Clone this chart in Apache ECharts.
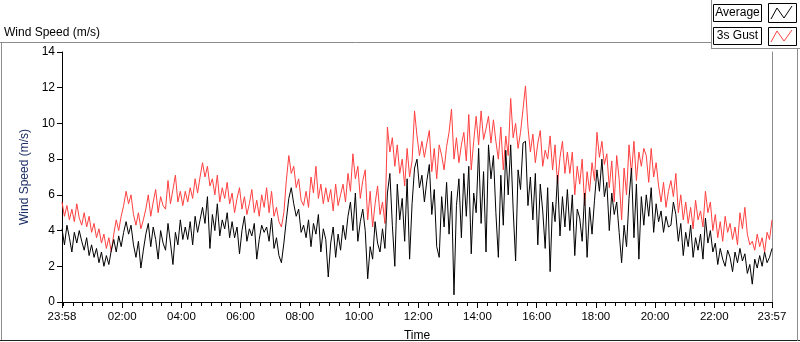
<!DOCTYPE html>
<html><head><meta charset="utf-8">
<script src="https://cdn.jsdelivr.net/npm/echarts@6/dist/echarts.min.js"></script>
<style>html,body{margin:0;padding:0;background:#fff;}#c{width:800px;height:342px;}</style>
</head><body><div id="c"></div>
<script>
// time axis in minutes from 00:00 (23:58 of previous day = -2)
var timeStart = -2;
var timeEnd = 1437;
var majorTickMinutes = [-2, 120, 240, 360, 480, 600, 720, 840, 960, 1080, 1200, 1320, 1437];
var yTicks = [0, 2, 4, 6, 8, 10, 12, 14];

// 3s Gust (red)
var gust = [
 5.6, 4.8, 5.4, 4.6, 5.2, 4.5, 5.5, 4.7,
 4.3, 5.0, 4.2, 4.8, 3.9,
 4.4, 3.6, 4.1, 3.3, 3.8,
 3.0, 3.6, 2.8,
 3.8, 4.6, 4.0, 4.8, 5.4,
 6.2, 5.5, 6.0, 4.9,
 4.3, 5.0, 4.1, 4.6,
 5.2, 6.0, 4.8, 5.6, 6.3, 5.0, 5.9, 5.4,
 5.2, 6.8, 5.5, 6.3, 7.1, 5.6, 6.2, 5.4,
 6.2, 5.6, 6.4, 5.8, 6.9, 6.1, 7.0,
 7.8, 7.0, 7.6, 6.5,
 6.9, 6.0, 7.1, 5.6, 6.4, 5.8, 6.7, 5.5,
 6.1, 5.0, 5.8, 6.4, 5.2, 5.9, 4.9, 5.5, 6.3, 5.0, 5.7, 4.8, 6.0, 5.3,
 6.4, 5.0, 6.2, 4.8, 5.3, 4.5,
 4.2, 5.0, 6.8, 8.2, 7.2,
 7.6, 6.4, 6.9, 5.7,
 5.4, 6.2, 5.3, 7.0, 6.1,
 7.6, 5.8, 6.6, 5.5, 6.4,
 5.6, 6.3, 5.1, 6.6, 5.4, 6.0,
 6.6, 5.6, 7.2, 6.2, 8.3, 6.9, 7.6, 5.8, 6.8, 7.4,
 4.6, 6.2, 4.2, 5.5, 6.5, 4.9, 5.6, 4.4,
 9.8, 8.4, 9.2, 7.6,
 8.8, 7.2, 8.0, 6.5, 8.6, 7.0, 7.9, 10.7,
 9.3, 8.2, 9.0, 8.1, 8.9,
 9.6, 7.3, 8.6, 6.9, 8.8,
 8.2, 7.4, 8.7, 9.5,
 10.8, 8.0, 9.2, 7.8, 8.8, 9.5, 7.9,
 10.5, 7.4, 9.0, 10.4,
 8.8, 10.7, 9.1, 9.7,
 10.4, 8.9, 10.2, 9.0,
 8.0, 9.8, 7.4, 9.3, 8.2,
 11.4, 9.2, 10.0, 8.6,
 9.5, 10.8, 12.1, 9.8, 8.4,
 9.4, 7.8, 8.9, 9.6, 7.6, 8.5, 8.0,
 9.3, 7.4, 8.8, 6.6, 8.1, 9.0, 7.2, 8.4,
 7.2, 8.4, 6.0, 7.6,
 6.6, 8.0, 5.4, 7.3, 6.2, 7.8, 6.8,
 9.5, 8.1, 9.0, 7.7,
 8.3, 6.4, 7.9, 5.6, 8.2, 6.9,
 4.6, 7.5, 6.0,
 8.8, 7.2, 9.0, 6.8, 8.4, 7.6, 8.6,
 8.2, 6.7, 8.6, 7.0, 7.8,
 6.5, 5.6, 6.7, 5.3, 6.2,
 6.8, 5.9, 7.2,
 5.0, 6.0, 4.6,
 5.6, 4.4, 5.3, 4.1, 5.7, 4.6, 5.1, 4.2,
 6.2, 5.0, 5.6,
 4.0, 4.9, 3.6, 4.5, 3.4, 4.8, 3.9, 4.4, 3.5, 4.2, 3.2,
 5.0, 4.1, 5.3, 3.8, 3.2,
 3.4, 2.9, 3.8, 3.1, 3.6, 2.8, 3.9, 3.5, 4.6
];

// Average (black)
var average = [
 4.1, 3.2, 4.3, 3.6, 2.8, 3.9, 3.3, 4.0,
 3.4, 2.9, 3.6, 2.6, 3.2,
 2.5, 3.0, 2.2, 2.8, 2.0,
 2.6, 2.1, 2.9,
 3.5, 2.8, 3.7, 3.1, 3.9,
 4.5, 3.8, 4.3, 3.2,
 2.5, 3.4, 1.9, 2.9,
 3.8, 4.4, 3.1, 4.2, 3.5, 2.4, 4.0, 3.3,
 2.9, 4.4, 3.3, 2.1, 3.9, 3.2, 4.6, 3.5,
 4.2, 3.5, 4.5, 3.2, 4.8, 3.9, 4.6,
 5.3, 4.4, 5.9, 3.0,
 4.9, 4.0, 5.5, 3.7, 4.6, 4.1, 5.0, 3.6,
 4.5, 3.6, 4.2, 2.7, 4.0, 4.8, 3.4, 4.1, 3.7, 4.4, 2.4, 3.5, 4.3, 3.9,
 4.2, 3.4, 4.7, 3.0, 3.6, 2.6,
 2.2, 3.3, 4.6, 5.8, 6.4,
 5.5, 4.8, 5.2, 3.9,
 4.3, 3.6, 4.6, 3.1, 4.4,
 3.8, 4.9, 2.8, 4.1, 3.5,
 1.4, 3.3, 4.2, 2.5, 3.8, 2.9,
 4.3, 3.5, 4.8, 5.6, 4.0, 6.1, 3.4, 4.5, 5.2, 4.0,
 1.3, 3.1, 2.4, 4.5, 3.3, 2.8, 4.1, 3.0,
 6.1, 7.2, 4.3, 2.0,
 6.6, 4.6, 5.8, 3.4, 6.9, 2.4, 5.5, 7.5,
 8.0, 6.4, 7.1, 5.6, 6.8,
 7.7, 4.9, 6.3, 3.1, 2.5,
 5.9, 4.2, 6.7, 3.8,
 6.2, 0.4, 5.4, 6.9, 3.6, 7.2, 4.8,
 7.6, 2.7, 6.1, 5.0,
 8.6, 4.4, 7.3, 2.8,
 8.8, 6.9, 8.2, 5.0,
 2.5, 7.1, 4.3, 8.5, 6.0,
 8.8, 5.2, 2.3, 7.4,
 6.3, 8.9, 9.0, 5.4, 7.0,
 4.6, 7.2, 3.2, 6.6, 5.1, 3.0, 6.4,
 1.7, 5.6, 4.5, 7.1, 3.7, 5.9, 4.2, 6.3,
 4.0, 6.0, 2.6, 5.2,
 4.7, 3.4, 6.1, 2.5, 5.3, 3.8, 5.7,
 7.4, 6.2, 8.0, 5.9,
 6.7, 4.0, 6.1, 4.9, 5.6, 3.9,
 2.2, 4.3, 3.1,
 5.8, 7.5, 3.6, 6.6, 2.4, 5.9, 4.3,
 6.0, 4.8, 6.4, 3.9, 5.5,
 4.5, 5.1, 3.9, 4.8, 4.2,
 4.3, 5.6, 4.9,
 3.4, 4.4, 2.6,
 3.9, 3.1, 4.3, 2.5, 3.6, 2.9, 3.8, 2.4,
 4.7, 3.3, 4.0,
 2.8, 3.3, 2.1, 3.0, 2.4, 2.0, 2.9, 2.5, 1.7, 2.8, 2.2,
 3.0, 2.3, 2.7, 1.6, 2.1,
 1.0, 2.4, 1.9, 2.6, 2.0, 2.8, 2.2, 2.5, 3.0
];

function pairs(vals) {
  var n = vals.length, step = (timeEnd - timeStart) / (n - 1), out = [];
  for (var i = 0; i < n; i++) out.push([timeStart + i * step, vals[i]]);
  return out;
}
function fmtTime(v) {
  var m = Math.round(((v % 1440) + 1440) % 1440);
  var h = Math.floor(m / 60), mm = m % 60;
  return (h < 10 ? '0' : '') + h + ':' + (mm < 10 ? '0' : '') + mm;
}
var minorTicks = [];
for (var t = 0; t <= 1420; t += 20) minorTicks.push(t);

var FONT = '"Liberation Sans", Arial, sans-serif';
var chart = echarts.init(document.getElementById('c'), null, {renderer: 'canvas'});
chart.setOption({
  animation: false,
  backgroundColor: '#fff',
  grid: {left: 62, top: 52, width: 710, height: 250, containLabel: false, outerBoundsMode: 'none'},
  xAxis: [
    {type: 'value', min: timeStart, max: timeEnd, position: 'bottom',
     name: 'Time', nameLocation: 'middle', nameGap: 28,
     nameTextStyle: {fontFamily: FONT, fontSize: 12, color: '#000'},
     axisLine: {show: true, onZero: false, lineStyle: {color: '#8c8c8c', width: 1}},
     axisTick: {show: true, customValues: majorTickMinutes, length: 6, lineStyle: {color: '#000', width: 1}},
     axisLabel: {show: true, customValues: majorTickMinutes, formatter: fmtTime, margin: 9,
       fontFamily: FONT, fontSize: 11.5, color: '#000', showMinLabel: true, showMaxLabel: true},
     splitLine: {show: false}},
    {type: 'value', min: timeStart, max: timeEnd, position: 'bottom',
     axisLine: {show: false},
     axisTick: {show: true, customValues: minorTicks, length: 4, lineStyle: {color: '#000', width: 1}},
     axisLabel: {show: false}, splitLine: {show: false}},
    {type: 'value', min: timeStart, max: timeEnd, position: 'top',
     axisLine: {show: true, lineStyle: {color: '#000', width: 1}},
     axisTick: {show: false}, axisLabel: {show: false}, splitLine: {show: false}}
  ],
  yAxis: [
    {type: 'value', min: 0, max: 14, interval: 2, position: 'left',
     name: 'Wind Speed (m/s)', nameLocation: 'middle', nameGap: 31, nameRotate: 90,
     nameTextStyle: {fontFamily: FONT, fontSize: 12, color: '#1c2f66'},
     axisLine: {show: true, onZero: false, lineStyle: {color: '#000', width: 1}},
     axisTick: {show: true, length: 5, lineStyle: {color: '#000'}},
     axisLabel: {fontFamily: FONT, fontSize: 12, color: '#000', margin: 7},
     splitLine: {show: false}},
    {type: 'value', min: 0, max: 14, interval: 2, position: 'right',
     axisLine: {show: true, onZero: false, lineStyle: {color: '#8c8c8c', width: 1}},
     axisTick: {show: false}, axisLabel: {show: false}, splitLine: {show: false}}
  ],
  series: [
    {name: '3s Gust', type: 'line', data: pairs(gust), showSymbol: false, symbol: 'none',
     xAxisIndex: 0, yAxisIndex: 0,
     lineStyle: {color: '#ff4040', width: 1}, itemStyle: {color: '#ff4040'}, z: 2},
    {name: 'Average', type: 'line', data: pairs(average), showSymbol: false, symbol: 'none',
     xAxisIndex: 0, yAxisIndex: 0,
     lineStyle: {color: '#000', width: 1}, itemStyle: {color: '#000'}, z: 3}
  ],
  graphic: [
    {type: 'text', left: 4, top: 27, style: {text: 'Wind Speed (m/s)', font: '12px ' + FONT, fill: '#000'}},
    // outer frame
    {type: 'line', shape: {x1: 0, y1: 42.5, x2: 711, y2: 42.5}, style: {stroke: '#8c8c8c', lineWidth: 1}},
    {type: 'line', shape: {x1: 1.5, y1: 42, x2: 1.5, y2: 341}, style: {stroke: '#8c8c8c', lineWidth: 1}},
    {type: 'line', shape: {x1: 0, y1: 340.5, x2: 800, y2: 340.5}, style: {stroke: '#222', lineWidth: 1}},
    {type: 'line', shape: {x1: 797.5, y1: 48, x2: 797.5, y2: 341}, style: {stroke: '#8c8c8c', lineWidth: 1}},
    // legend panel
    {type: 'line', shape: {x1: 711.5, y1: 0, x2: 711.5, y2: 48}, style: {stroke: '#8c8c8c', lineWidth: 1}},
    {type: 'line', shape: {x1: 711, y1: 48.5, x2: 800, y2: 48.5}, style: {stroke: '#8c8c8c', lineWidth: 1}},
    {type: 'rect', shape: {x: 713.5, y: 4.5, width: 48, height: 17}, style: {fill: '#fff', stroke: '#000', lineWidth: 1}},
    {type: 'text', x: 737.5, y: 13, style: {text: 'Average', font: '12px ' + FONT, fill: '#000', align: 'center', verticalAlign: 'middle'}},
    {type: 'rect', shape: {x: 768.5, y: 3.5, width: 28, height: 19}, style: {fill: '#fff', stroke: '#000', lineWidth: 1}},
    {type: 'polyline', shape: {points: [[771, 19], [777, 8], [784, 18], [792, 6]]}, style: {stroke: '#000', lineWidth: 1, fill: null}},
    {type: 'rect', shape: {x: 713.5, y: 27.5, width: 48, height: 17}, style: {fill: '#fff', stroke: '#000', lineWidth: 1}},
    {type: 'text', x: 737.5, y: 36, style: {text: '3s Gust', font: '12px ' + FONT, fill: '#000', align: 'center', verticalAlign: 'middle'}},
    {type: 'rect', shape: {x: 768.5, y: 27.5, width: 28, height: 18}, style: {fill: '#fff', stroke: '#000', lineWidth: 1}},
    {type: 'polyline', shape: {points: [[771, 42], [777, 31], [784, 41], [792, 30]]}, style: {stroke: '#ff4040', lineWidth: 1, fill: null}}
  ]
});
</script>
</body></html>
